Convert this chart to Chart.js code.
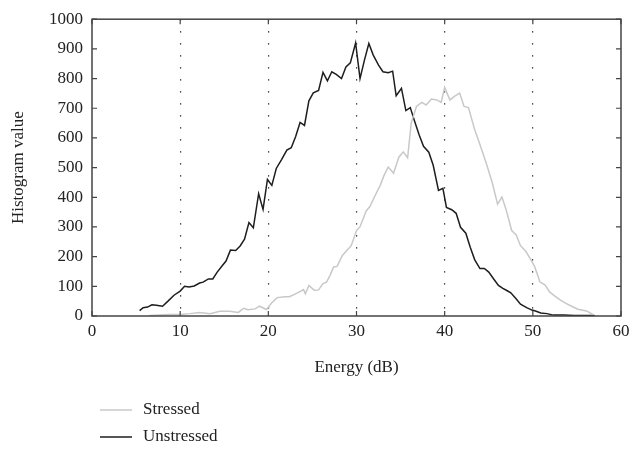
<!DOCTYPE html>
<html>
<head>
<meta charset="utf-8">
<script src="https://cdn.jsdelivr.net/npm/chart.js@4"></script>
<style>
  html, body { margin: 0; padding: 0; background: #fff; }
  #wrap { width: 632px; height: 449px; }
</style>
</head>
<body>
<div id="wrap"><canvas id="histChart"></canvas></div>
<script>
// energy bins (dB) and histogram counts per class
const unstressedEnergy = [5.4, 5.8, 6.3, 6.8, 7.3, 8.0, 8.65, 9.3, 10.0, 10.5, 11.0, 11.6, 12.2, 12.6, 13.2, 13.7,
  14.2, 14.7, 15.2, 15.7, 16.3, 16.8, 17.3, 17.8, 18.3, 18.9, 19.4, 19.9, 20.4, 20.9, 21.5, 22.1, 22.6, 23.1,
  23.6, 24.1, 24.6, 25.1, 25.7, 26.2, 26.7, 27.2, 27.7, 28.3, 28.8, 29.3, 29.9, 30.4, 30.9, 31.4, 31.9, 32.5,
  33.0, 33.6, 34.1, 34.5, 35.1, 35.6, 36.1, 36.6, 37.1, 37.6, 38.2, 38.7, 39.3, 39.8, 40.2, 40.8, 41.3, 41.8,
  42.4, 42.9, 43.4, 44.0, 44.5, 45.0, 45.6, 46.1, 46.6, 47.1, 47.5, 48.1, 48.6, 49.3, 49.9, 50.3, 50.9, 51.6,
  52.3, 53.5, 54.7, 55.8, 57.0];
const unstressedCount = [18, 28, 30, 38, 36, 33, 51, 70, 84, 100, 98, 101, 111, 114, 125, 125,
  148, 167, 185, 222, 221, 236, 259, 315, 297, 412, 359, 460, 440, 497, 527, 559, 567, 605,
  652, 642, 725, 752, 760, 821, 792, 823, 814, 800, 839, 853, 920, 800, 862, 918, 879, 845,
  823, 820, 825, 742, 767, 692, 702, 655, 611, 572, 552, 508, 423, 430, 366, 358, 346, 299,
  279, 232, 190, 160, 160, 148, 123, 103, 93, 85, 78, 58, 40, 28, 20, 17, 10, 8,
  3, 3, 2, 2, 2];

const stressedEnergy = [6.5, 7.5, 8.8, 10.0, 11.1, 12.2, 13.4, 14.5, 15.6, 16.6, 17.2, 17.7, 18.5, 19.0, 19.8,
  20.4, 21.0, 21.9, 22.4, 23.2, 24.0, 24.2, 24.6, 25.2, 25.7, 26.2, 26.6, 27.0, 27.4, 27.8, 28.4, 28.9, 29.4,
  30.0, 30.4, 31.1, 31.5, 32.1, 32.7, 33.1, 33.6, 34.2, 34.8, 35.3, 35.8, 36.2, 36.8, 37.4, 37.9, 38.5, 39.1,
  39.6, 40.0, 40.6, 41.1, 41.7, 42.2, 42.7, 43.4, 44.0, 44.7, 45.4, 46.0, 46.5, 47.0, 47.6, 48.1, 48.6, 49.2,
  49.7, 50.2, 50.8, 51.4, 51.9, 52.5, 53.1, 53.6, 54.4, 55.1, 56.1, 56.8];
const stressedCount = [2, 3, 5, 5, 8, 12, 8, 16, 16, 12, 26, 21, 24, 33, 22,
  45, 62, 65, 65, 76, 89, 75, 103, 87, 88, 109, 114, 137, 165, 167, 204, 221, 237,
  288, 301, 354, 368, 405, 441, 472, 502, 481, 535, 553, 533, 650, 706, 720, 711, 731, 728,
  720, 770, 728, 740, 751, 706, 702, 628, 578, 516, 449, 377, 401, 355, 288, 274, 237, 218,
  193, 167, 115, 104, 81, 67, 54, 45, 33, 23, 17, 5];

const seriesNames = ['Stressed', 'Unstressed'];
const seriesColors = ['#c8c8c8', '#1e1e1e'];
const xTicks = [0, 10, 20, 30, 40, 50, 60];
const yTicks = [0, 100, 200, 300, 400, 500, 600, 700, 800, 900, 1000];

const serif = "'Liberation Serif', 'DejaVu Serif', serif";

const toPoints = (xs, ys) => xs.map((x, i) => ({ x: x, y: ys[i] }));

// box around the plot with short inward ticks on every side
const frame = {
  id: 'frame',
  afterDatasetsDraw(chart) {
    const { ctx, chartArea: a, scales } = chart;
    ctx.save();
    ctx.strokeStyle = '#444';
    ctx.lineWidth = 1.5;
    ctx.strokeRect(a.left, a.top, a.right - a.left, a.bottom - a.top);
    ctx.lineWidth = 1.2;
    ctx.beginPath();
    yTicks.forEach(v => {
      const y = scales.y.getPixelForValue(v);
      ctx.moveTo(a.left, y); ctx.lineTo(a.left + 5, y);
      ctx.moveTo(a.right, y); ctx.lineTo(a.right - 5, y);
    });
    xTicks.forEach(v => {
      const x = scales.x.getPixelForValue(v);
      ctx.moveTo(x, a.bottom); ctx.lineTo(x, a.bottom - 5);
      ctx.moveTo(x, a.top); ctx.lineTo(x, a.top + 5);
    });
    ctx.stroke();
    ctx.restore();
  }
};

// legend stacked under the axis title
const stackedLegend = {
  id: 'stackedLegend',
  afterDraw(chart) {
    const { ctx } = chart;
    ctx.save();
    ctx.font = '17px ' + serif;
    ctx.textBaseline = 'middle';
    seriesNames.forEach((name, i) => {
      const y = 410 + i * 27;
      ctx.strokeStyle = seriesColors[i];
      ctx.lineWidth = 1.5;
      ctx.beginPath();
      ctx.moveTo(100, y); ctx.lineTo(132, y);
      ctx.stroke();
      ctx.fillStyle = '#222';
      ctx.fillText(name, 143, y);
    });
    ctx.restore();
  }
};

new Chart(document.getElementById('histChart'), {
  type: 'line',
  data: {
    datasets: [
      {
        label: seriesNames[0],
        data: toPoints(stressedEnergy, stressedCount),
        borderColor: seriesColors[0],
        borderWidth: 1.5,
        pointRadius: 0,
        tension: 0
      },
      {
        label: seriesNames[1],
        data: toPoints(unstressedEnergy, unstressedCount),
        borderColor: seriesColors[1],
        borderWidth: 1.5,
        pointRadius: 0,
        tension: 0
      }
    ]
  },
  options: {
    responsive: true,
    maintainAspectRatio: false,
    animation: false,
    layout: { padding: { top: 17, right: 2, bottom: 71, left: 0 } },
    plugins: {
      legend: { display: false },
      tooltip: { enabled: false }
    },
    scales: {
      x: {
        type: 'linear',
        min: 0,
        max: 60,
        afterFit: s => { s.height = 62; s.paddingRight = 11; },
        afterBuildTicks: s => { s.ticks = xTicks.map(v => ({ value: v })); },
        grid: {
          drawTicks: false,
          color: c => (c.tick && (c.tick.value === 0 || c.tick.value === 60)) ? 'rgba(0,0,0,0)' : '#111',
          lineWidth: 1.2
        },
        border: { display: false, dash: [1.2, 10.8] },
        ticks: { color: '#222', font: { family: serif, size: 17 }, padding: 5, maxRotation: 0 },
        title: {
          display: true,
          text: 'Energy (dB)',
          color: '#222',
          font: { family: serif, size: 17 },
          padding: { top: 8, bottom: 0 }
        }
      },
      y: {
        min: 0,
        max: 1000,
        afterFit: s => { s.width = 92; },
        afterBuildTicks: s => { s.ticks = yTicks.map(v => ({ value: v })); },
        grid: { display: false, drawTicks: false },
        border: { display: false },
        ticks: {
          color: '#222',
          font: { family: serif, size: 17 },
          padding: 9,
          callback: v => String(v)
        },
        title: {
          display: true,
          text: 'Histogram value',
          color: '#222',
          font: { family: serif, size: 17 },
          padding: { top: 8, bottom: 0 }
        }
      }
    }
  },
  plugins: [frame, stackedLegend]
});
</script>
</body>
</html>
